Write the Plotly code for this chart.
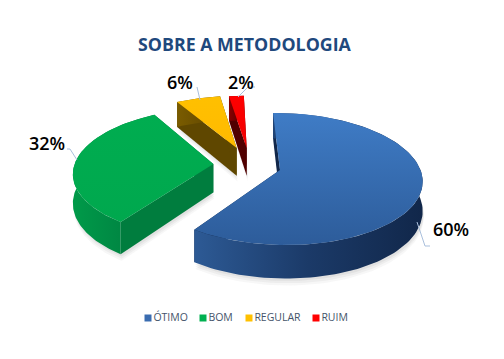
import numpy as np
import plotly.graph_objects as go

categories = ["ÓTIMO", "BOM", "REGULAR", "RUIM"]
values = [60, 32, 6, 2]
labels = ["60%", "32%", "6%", "2%"]
title = "SOBRE A METODOLOGIA"

legend_colors = ["#3a6cb0", "#00b050", "#ffc000", "#ff0000"]
top_grad = [["#3f7cc6", "#2d5c9a"], ["#00ad50", "#00a84e"], ["#ffc000", "#ffba00"], ["#ff0000", "#f00000"]]
wall_grad = [["#2d5a95", "#1b3a68", "#11274a"], ["#009a49", "#008a44", "#007a3c"],
             ["#7a5c00", "#6c5000", "#5f4700"], ["#8a0000", "#6d0000", "#500000"]]

# projection of the tilted disc to the page
X0, Y0, RX, RY, K, DEPTH = 240.0, 170.0, 140.5, 64.8, 0.136, 29.0
ROT = -1.0
offsets = [(40.0, 0.0), (-27.0, 0.095), (-3.5, 0.356), (7.0, 0.356)]


def project(wx, wv, down=0.0):
    s = 1.0 / (1.0 + K * wv)
    return X0 + wx * s, Y0 - RY * wv * s + down * s


def grad(kind, c):
    n = len(c) - 1
    return dict(type=kind, colorscale=[[j / n, col] for j, col in enumerate(c)])


fig = go.Figure()


def poly(xs, ys, **kw):
    fig.add_trace(go.Scatter(x=xs, y=ys, mode="lines", line=dict(width=0), fill="toself",
                             hoverinfo="skip", showlegend=False, **kw))


total = sum(values)
a = ROT
slices = []
for i, v in enumerate(values):
    b = a + 360.0 * v / total
    slices.append((i, a, b))
    a = b

# soft shadow under the pieces
for i, a0, a1 in slices:
    th = np.radians(np.linspace(a0, a1, 90))
    ox, ov = offsets[i]
    wx = np.r_[ox, ox + RX * np.sin(th)]
    wv = np.r_[ov, ov + np.cos(th)]
    for grow, alpha in [(6, 0.05), (4, 0.06), (2, 0.08)]:
        px, py = project(wx, wv, DEPTH + grow)
        poly(list(px + 1), list(py), fillcolor=f"rgba(90,90,90,{alpha})")

for i, a0, a1 in [slices[0], slices[3], slices[2], slices[1]]:
    th = np.radians(np.linspace(a0, a1, 120))
    ox, ov = offsets[i]
    ax, av = ox + RX * np.sin(th), ov + np.cos(th)
    # cut walls
    for e in (0, -1):
        ex, ev = np.array([ox, ax[e]]), np.array([ov, av[e]])
        tx2, ty2 = project(ex, ev)
        bx2, by2 = project(ex, ev, DEPTH)
        poly(list(np.r_[tx2, bx2[::-1]]), list(np.r_[ty2, by2[::-1]]),
             fillcolor=wall_grad[i][-1] if i != 1 else "#007d3e")
    # outer wall
    tx, ty = project(ax, av)
    bx, by = project(ax, av, DEPTH)
    poly(list(np.r_[tx, bx[::-1]]), list(np.r_[ty, by[::-1]]),
         fillgradient=grad("horizontal", wall_grad[i]), fillcolor=wall_grad[i][0])
    # top face
    px, py = project(np.r_[ox, ax], np.r_[ov, av])
    poly(list(px), list(py), fillgradient=grad("vertical", top_grad[i][::-1]), fillcolor=top_grad[i][0])

# leader lines
leaders = [([417, 425, 430], [222, 246, 246]), ([77, 70, 67], [160, 149, 149]),
           ([200, 197], [100, 87]), ([238, 248, 255], [97, 87, 87])]
for lx, ly in leaders:
    fig.add_trace(go.Scatter(x=lx, y=ly, mode="lines", line=dict(color="#a9bfdc", width=1),
                             hoverinfo="skip", showlegend=False))

# legend entries
legend_x = [148, 203, 249, 316]
for name, col, lx in zip(categories, legend_colors, legend_x):
    fig.add_trace(go.Scatter(x=[lx], y=[318], mode="markers+text", name=name, text=[name],
                             textposition="middle right", showlegend=False, hoverinfo="name",
                             textfont=dict(family="Open Sans", size=10.5, color="#44546a"),
                             marker=dict(symbol="square", size=7, color=col)))

label_pos = [(451, 229), (47, 143), (180, 82), (241, 82)]
for t, (x, y) in zip(labels, label_pos):
    fig.add_annotation(x=x, y=y, text=t, showarrow=False, xref="x", yref="y",
                       font=dict(family="Open Sans", size=18, color="#000000", weight=600))
fig.add_annotation(x=245, y=44, text=f"<b>{title}</b>", showarrow=False, xref="x", yref="y",
                   font=dict(family="Open Sans", size=17.8, color="#1f497d"))

fig.update_layout(
    width=504, height=359, margin=dict(l=0, r=0, t=0, b=0),
    paper_bgcolor="white", plot_bgcolor="white", showlegend=False,
    xaxis=dict(range=[0, 504], visible=False, fixedrange=True),
    yaxis=dict(range=[359, 0], visible=False, fixedrange=True),
)
fig.write_html("out.html", config=dict(displayModeBar=False),
               post_script="document.body.style.margin='0';")
